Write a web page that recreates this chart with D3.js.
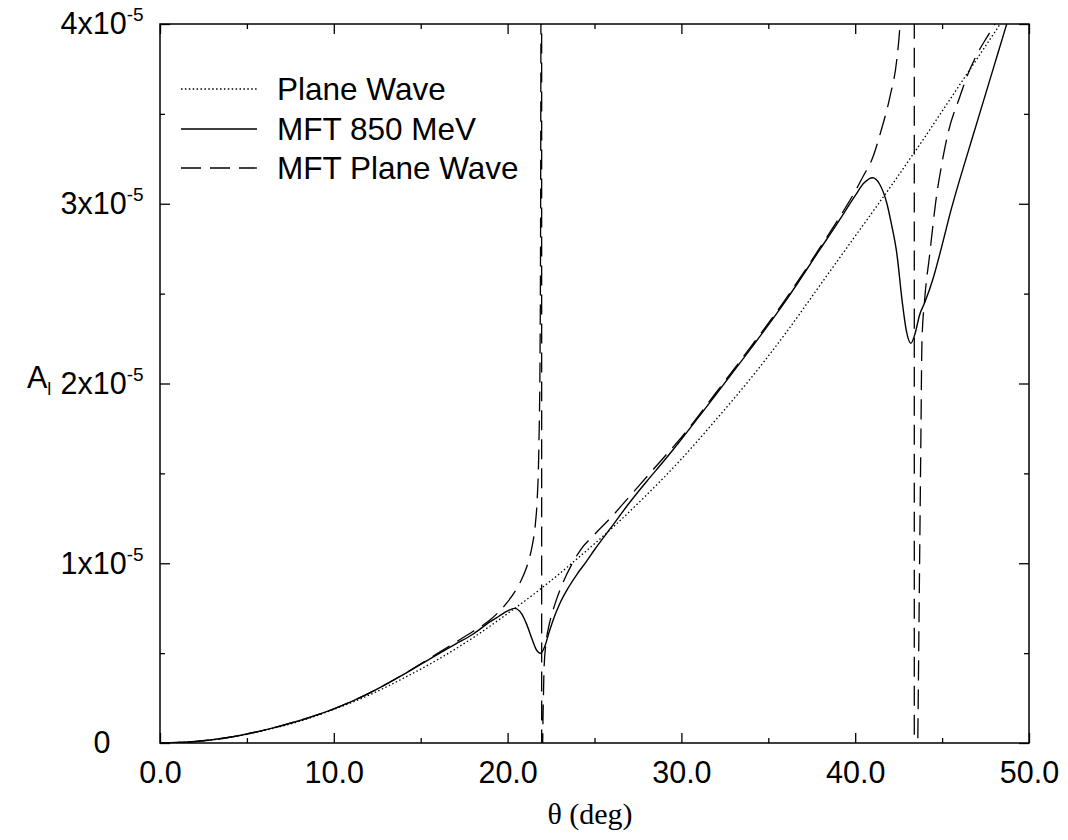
<!DOCTYPE html>
<html><head><meta charset="utf-8">
<script src="https://cdn.jsdelivr.net/npm/d3@7"></script>
<style>
html,body{margin:0;padding:0;background:#fff;}
svg{display:block;font-family:"Liberation Sans",Arial,sans-serif;}
</style></head><body>
<svg id="chart" width="1068" height="840"></svg>
<script>
// ---------------- data (asymmetry in units of 1e-6) ----------------
const thetaPlaneWave = [0,2,4,6,8,10,12,14,16,18,20,22,24,26,28,30,32,34,36,38,40,42,44,46,48,50];
const asymPlaneWave  = [0,0.08,0.31,0.70,1.20,1.87,2.65,3.6,4.65,5.85,7.2,8.65,10.25,11.95,13.8,15.8,18.0,20.3,22.8,25.5,28.2,30.9,33.7,36.6,39.5,42.4];

const thetaMFT850 = [0,2,4,6,8,10,12,14,16,17,18,19,19.5,20,20.4,20.8,21.1,21.4,21.65,21.9,22.15,22.4,22.7,23.0,23.5,24.0,24.5,25.0,26,27,28,29,30,32,34,36,38,39,40,40.5,41.0,41.4,41.8,42.1,42.4,42.7,42.95,43.2,43.45,43.7,44.0,44.5,45.0,45.5,46.0,46.5,47.0,47.5,48.0,48.5,49.0];
const asymMFT850  = [0,0.08,0.32,0.72,1.24,1.9,2.75,3.8,4.95,5.5,6.05,6.75,7.05,7.35,7.49,7.2,6.6,5.8,5.2,4.99,5.4,6.2,7.05,7.75,8.65,9.4,10.05,10.75,12.05,13.35,14.55,15.7,16.9,19.4,21.95,24.6,27.5,28.95,30.45,31.15,31.45,31.1,30.1,28.8,27.2,24.6,22.9,22.24,22.8,23.8,24.5,25.9,27.7,29.6,31.3,32.9,34.5,36.1,37.7,39.3,40.9];

const thetaMFTPlaneWave = [0,2,4,6,8,10,12,14,16,17,18,19,19.5,20,20.5,20.9,21.2,21.4,21.6,21.7,21.8,21.87,21.91,21.94,21.955,21.965,22.0,22.02,22.06,22.1,22.2,22.35,22.5,22.8,23.2,23.7,24.2,25,26,27,28,29,30,32,34,36,38,39,40,40.5,40.95,41.5,42.0,42.39,42.58,42.9,43.2,43.35,43.395,43.405,43.5,43.6,43.7,43.78,43.84,44.0,44.27,44.69,45.0,45.36,46.0,46.5,47.0,47.6,48.1,48.6,49,50];
const asymMFTPlaneWave  = [0,0.08,0.32,0.72,1.24,1.9,2.76,3.82,5.0,5.6,6.2,6.85,7.3,7.85,8.55,9.3,10.1,10.9,12.2,13.5,16.5,22,35,70,300,-300,-20,0,2.5,4.2,5.5,6.4,7.0,7.95,8.95,9.95,10.75,11.6,12.6,13.7,14.8,15.9,17.0,19.5,22.05,24.7,27.6,29.1,30.7,31.6,32.43,34.1,35.96,38.0,40.0,48,70,150,400,-400,-8,0,9.5,17,22.3,24.7,27.05,30.5,32.3,34.0,35.9,37.25,38.3,39.3,40.1,40.9,41.6,43.3];

const xTickValues = [0,10,20,30,40,50];
const xMinorTickValues = [5,15,25,35,45];
const yTickValues = [0,10,20,30,40];
const yMinorTickValues = [5,15,25,35];
const yTickLabels = ["0","1x10^-5","2x10^-5","3x10^-5","4x10^-5"];
const seriesNames = ["Plane Wave","MFT 850 MeV","MFT Plane Wave"];
const xTitle = "\u03b8 (deg)";
const yTitleMain = "A", yTitleSub = "l";

// ---------------- layout ----------------
const plot = {left:160, right:1029, top:24, bottom:743};
const svg = d3.select("#chart");
const x = d3.scaleLinear().domain([0,50]).range([plot.left, plot.right]);
const y = d3.scaleLinear().domain([0,40]).range([plot.bottom, plot.top]);

svg.append("defs").append("clipPath").attr("id","clip")
  .append("rect").attr("x",plot.left).attr("y",plot.top)
  .attr("width",plot.right-plot.left).attr("height",plot.bottom-plot.top);

// axes (inward ticks on all four sides)
function styleAxis(g){
  g.select(".domain").remove();
  g.selectAll(".tick line").attr("stroke","#000").attr("stroke-width",1.3);
  g.selectAll("text").attr("fill","#000").style("font-size","30.5px")
    .style("font-family","'Liberation Sans',Arial,sans-serif");
}
const bottomMajor = svg.append("g").attr("transform",`translate(0,${plot.bottom})`)
  .call(d3.axisBottom(x).tickValues(xTickValues).tickSize(-10).tickPadding(18).tickFormat(d3.format(".1f")));
styleAxis(bottomMajor);
styleAxis(svg.append("g").attr("transform",`translate(0,${plot.bottom})`)
  .call(d3.axisBottom(x).tickValues(xMinorTickValues).tickSize(-5).tickFormat("")));
styleAxis(svg.append("g").attr("transform",`translate(0,${plot.top})`)
  .call(d3.axisTop(x).tickValues(xTickValues).tickSize(-10).tickFormat("")));
styleAxis(svg.append("g").attr("transform",`translate(0,${plot.top})`)
  .call(d3.axisTop(x).tickValues(xMinorTickValues).tickSize(-5).tickFormat("")));

const leftMajor = svg.append("g").attr("transform",`translate(${plot.left},0)`)
  .call(d3.axisLeft(y).tickValues(yTickValues).tickSize(-10).tickFormat((d,i)=>yTickLabels[i]));
styleAxis(leftMajor);
leftMajor.selectAll(".tick text").each(function(d,i){
  const t = d3.select(this);
  const label = yTickLabels[i];
  t.text(null).attr("text-anchor","middle").attr("x",-58);
  const parts = label.split("^");
  t.append("tspan").text(parts[0]);
  if(parts.length>1){
    t.append("tspan").text(parts[1]).attr("dy",-13).style("font-size","19px");
  }
});
styleAxis(svg.append("g").attr("transform",`translate(${plot.left},0)`)
  .call(d3.axisLeft(y).tickValues(yMinorTickValues).tickSize(-5).tickFormat("")));
styleAxis(svg.append("g").attr("transform",`translate(${plot.right},0)`)
  .call(d3.axisRight(y).tickValues(yTickValues).tickSize(-10).tickFormat("")));
styleAxis(svg.append("g").attr("transform",`translate(${plot.right},0)`)
  .call(d3.axisRight(y).tickValues(yMinorTickValues).tickSize(-5).tickFormat("")));

// frame
svg.append("rect").attr("x",plot.left).attr("y",plot.top)
  .attr("width",plot.right-plot.left).attr("height",plot.bottom-plot.top)
  .attr("fill","none").attr("stroke","#000").attr("stroke-width",1.5);

// series
const styles = [
  {dash:"1.5,2.4", width:1.3},
  {dash:null, width:1.4},
  {dash:"20,9", width:1.3}
];
const series = [
  d3.zip(thetaPlaneWave, asymPlaneWave),
  d3.zip(thetaMFT850, asymMFT850),
  d3.zip(thetaMFTPlaneWave, asymMFTPlaneWave)
];
const line = d3.line().x(d=>x(d[0])).y(d=>y(d[1])).curve(d3.curveMonotoneX);
const gLines = svg.append("g").attr("clip-path","url(#clip)");
series.forEach((s,i)=>{
  gLines.append("path").datum(s).attr("d",line)
    .attr("fill","none").attr("stroke","#000")
    .attr("stroke-width",styles[i].width)
    .attr("stroke-dasharray",styles[i].dash);
});

// legend
const legY = [89,129,168];
const leg = svg.append("g");
seriesNames.forEach((name,i)=>{
  leg.append("line").attr("x1",181).attr("x2",257).attr("y1",legY[i]).attr("y2",legY[i])
    .attr("stroke","#000").attr("stroke-width",styles[i].width)
    .attr("stroke-dasharray",styles[i].dash);
  leg.append("text").attr("x",277).attr("y",legY[i]+11).text(name)
    .style("font-size","31.5px").attr("fill","#000");
});

// axis titles
svg.append("text").attr("x",590).attr("y",824).attr("text-anchor","middle")
  .style("font-family","'Liberation Serif','Times New Roman',serif").style("font-size","30px")
  .text(xTitle);
const yt = svg.append("text").attr("x",27).attr("y",388).style("font-size","30.5px");
yt.append("tspan").text(yTitleMain);
yt.append("tspan").text(yTitleSub).attr("dy",7).style("font-size","18px");
</script>
</body></html>
